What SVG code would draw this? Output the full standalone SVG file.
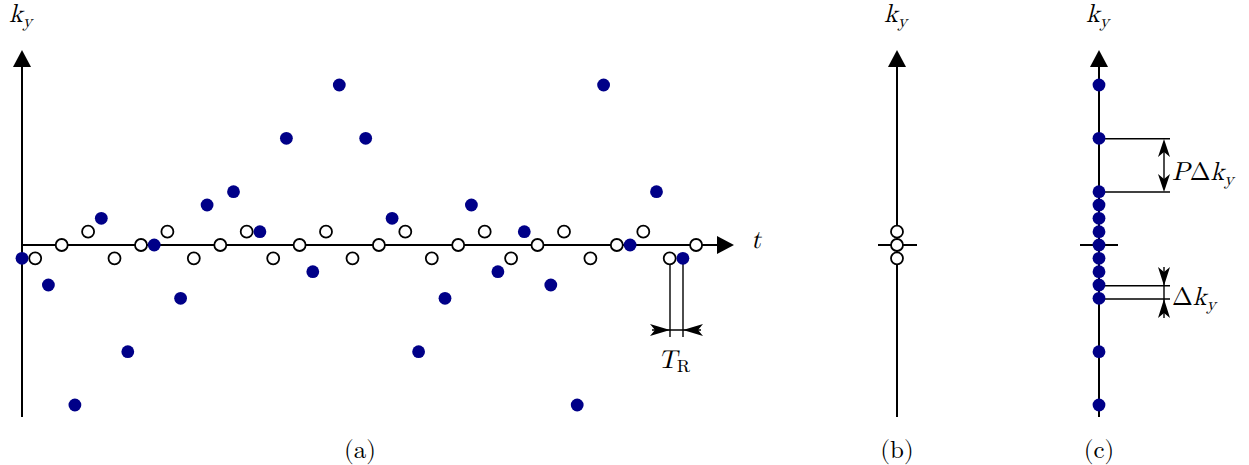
<svg xmlns="http://www.w3.org/2000/svg" width="1249" height="465" viewBox="0 0 1249 465">
<style>
.ax{stroke:#000;stroke-width:2;fill:none}
.ln{stroke:#000;stroke-width:1.4;fill:none}
.f{fill:#000088}
.o{fill:#fff;stroke:#000;stroke-width:1.8}
.m{font-family:"Latin Modern Math","Liberation Serif","DejaVu Serif","Times New Roman",serif;font-style:italic;font-size:26px;fill:#000}
.r{font-family:"Latin Modern Math","Liberation Serif","DejaVu Serif","Times New Roman",serif;font-style:normal;font-size:25px;fill:#000}
.s{font-size:18px}
.head{fill:#000}
</style>
<defs>
<circle id="fd" r="6.4" class="f"/>
<circle id="od" r="6" class="o"/>
</defs>
<rect width="1249" height="465" fill="#fff"/>
<g id="connectors">
<line class="ax" x1="22" y1="417" x2="22" y2="64"/>
<path class="head" d="M22,50 L13,67 L31,67 Z"/>
<line class="ax" x1="22" y1="245" x2="720" y2="245"/>
<path class="head" d="M734,245 L717,236 L717,254 Z"/>
<line class="ax" x1="897" y1="417" x2="897" y2="64"/>
<path class="head" d="M897,50 L888,67 L906,67 Z"/>
<line class="ax" x1="878" y1="245" x2="917" y2="245"/>
<line class="ax" x1="1099" y1="417" x2="1099" y2="64"/>
<path class="head" d="M1099,50 L1090,67 L1108,67 Z"/>
<line class="ax" x1="1080" y1="245" x2="1118" y2="245"/>
<line class="ln" x1="670" y1="258" x2="670" y2="337"/>
<line class="ln" x1="683" y1="258" x2="683" y2="337"/>
<line class="ln" x1="652" y1="330" x2="701" y2="330"/>
<path class="head" d="M670,330 L650,324 L655,330 L650,336 Z"/>
<path class="head" d="M683,330 L703,324 L698,330 L703,336 Z"/>
<line class="ln" x1="1099" y1="138.7" x2="1170" y2="138.7"/>
<line class="ln" x1="1099" y1="192" x2="1170" y2="192"/>
<line class="ln" x1="1164" y1="142" x2="1164" y2="189"/>
<path class="head" d="M1164,139 L1158,157 L1164,152 L1170,157 Z"/>
<path class="head" d="M1164,192 L1158,174 L1164,179 L1170,174 Z"/>
<line class="ln" x1="1099" y1="285.7" x2="1170" y2="285.7"/>
<line class="ln" x1="1099" y1="299" x2="1170" y2="299"/>
<line class="ln" x1="1164" y1="267" x2="1164" y2="318"/>
<path class="head" d="M1164,285.7 L1158,267 L1164,272 L1170,267 Z"/>
<path class="head" d="M1164,299 L1158,318 L1164,313 L1170,318 Z"/>
</g>
<g id="panel-a-open">
<use href="#od" x="35.2" y="258.3"/>
<use href="#od" x="61.7" y="245"/>
<use href="#od" x="88.1" y="231.7"/>
<use href="#od" x="114.5" y="258.3"/>
<use href="#od" x="141" y="245"/>
<use href="#od" x="167.4" y="231.7"/>
<use href="#od" x="193.8" y="258.3"/>
<use href="#od" x="220.3" y="245"/>
<use href="#od" x="246.7" y="231.7"/>
<use href="#od" x="273.2" y="258.3"/>
<use href="#od" x="299.6" y="245"/>
<use href="#od" x="326" y="231.7"/>
<use href="#od" x="352.5" y="258.3"/>
<use href="#od" x="378.9" y="245"/>
<use href="#od" x="405.3" y="231.7"/>
<use href="#od" x="431.8" y="258.3"/>
<use href="#od" x="458.2" y="245"/>
<use href="#od" x="484.7" y="231.7"/>
<use href="#od" x="511.1" y="258.3"/>
<use href="#od" x="537.5" y="245"/>
<use href="#od" x="564" y="231.7"/>
<use href="#od" x="590.4" y="258.3"/>
<use href="#od" x="616.8" y="245"/>
<use href="#od" x="643.3" y="231.7"/>
<use href="#od" x="669.7" y="258.3"/>
<use href="#od" x="696.1" y="245"/>
</g>
<g id="panel-a-filled">
<use href="#fd" x="22" y="258.3"/>
<use href="#fd" x="48.4" y="285"/>
<use href="#fd" x="74.9" y="405"/>
<use href="#fd" x="101.3" y="218.3"/>
<use href="#fd" x="127.8" y="351.7"/>
<use href="#fd" x="154.2" y="245"/>
<use href="#fd" x="180.6" y="298.3"/>
<use href="#fd" x="207.1" y="205"/>
<use href="#fd" x="233.5" y="191.7"/>
<use href="#fd" x="259.9" y="231.7"/>
<use href="#fd" x="286.4" y="138.3"/>
<use href="#fd" x="312.8" y="271.7"/>
<use href="#fd" x="339.3" y="85"/>
<use href="#fd" x="365.7" y="138.3"/>
<use href="#fd" x="392.1" y="218.3"/>
<use href="#fd" x="418.6" y="351.7"/>
<use href="#fd" x="445" y="298.3"/>
<use href="#fd" x="471.4" y="205"/>
<use href="#fd" x="497.9" y="271.7"/>
<use href="#fd" x="524.3" y="231.7"/>
<use href="#fd" x="550.8" y="285"/>
<use href="#fd" x="577.2" y="405"/>
<use href="#fd" x="603.6" y="85"/>
<use href="#fd" x="630.1" y="245"/>
<use href="#fd" x="656.5" y="191.7"/>
<use href="#fd" x="682.9" y="258.3"/>
</g>
<g id="panel-b-dots">
<use href="#od" x="897" y="231.7"/>
<use href="#od" x="897" y="245"/>
<use href="#od" x="897" y="258.3"/>
</g>
<g id="panel-c-dots">
<use href="#fd" x="1099" y="85"/>
<use href="#fd" x="1099" y="138.3"/>
<use href="#fd" x="1099" y="191.7"/>
<use href="#fd" x="1099" y="205"/>
<use href="#fd" x="1099" y="218.3"/>
<use href="#fd" x="1099" y="231.7"/>
<use href="#fd" x="1099" y="245"/>
<use href="#fd" x="1099" y="258.3"/>
<use href="#fd" x="1099" y="271.7"/>
<use href="#fd" x="1099" y="285"/>
<use href="#fd" x="1099" y="298.3"/>
<use href="#fd" x="1099" y="351.7"/>
<use href="#fd" x="1099" y="405"/>
</g>
<g id="labels">
<text class="m" x="9" y="22">k<tspan class="s" dy="5">y</tspan></text>
<text class="m" x="884" y="22">k<tspan class="s" dy="5">y</tspan></text>
<text class="m" x="1086" y="22">k<tspan class="s" dy="5">y</tspan></text>
<text class="m" x="751" y="248">t</text>
<text class="m" x="658" y="368">T<tspan class="r s" dy="4">R</tspan></text>
<text class="m" x="1172" y="180">P<tspan class="r" font-size="26">Δ</tspan>k<tspan class="s" dy="5">y</tspan></text>
<text class="m" x="1172" y="305"><tspan class="r" font-size="26">Δ</tspan>k<tspan class="s" dy="5">y</tspan></text>
<text class="r" x="360" y="458" text-anchor="middle">(a)</text>
<text class="r" x="897" y="458" text-anchor="middle">(b)</text>
<text class="r" x="1099" y="458" text-anchor="middle">(c)</text>
</g>
</svg>
